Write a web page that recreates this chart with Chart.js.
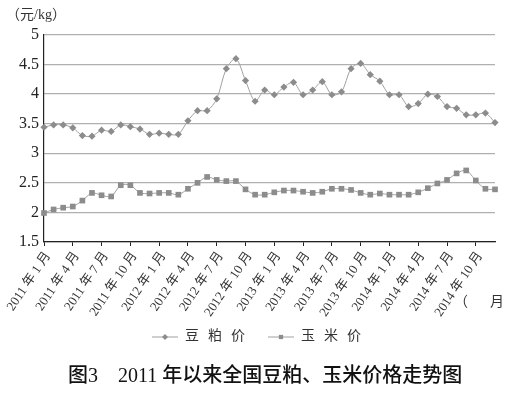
<!DOCTYPE html>
<html>
<head>
<meta charset="utf-8">
<script src="https://cdn.jsdelivr.net/npm/chart.js@4"></script>
<style>
  html, body { margin: 0; padding: 0; background: #fff; }
  #wrap { width: 514px; height: 394px; }
</style>
</head>
<body>
<div id="wrap"><canvas id="c" width="514" height="394"></canvas></div>
<script>
// months 2011-01 .. 2014-12
const years = [2011, 2012, 2013, 2014];
const months = [];
years.forEach(y => { for (let m = 1; m <= 12; m++) months.push(y + ' 年 ' + m + ' 月'); });

// prices (元/kg)
const soyMeal = [
  3.44, 3.48, 3.48, 3.43, 3.30, 3.29, 3.39, 3.37, 3.48, 3.45, 3.41, 3.32,
  3.34, 3.32, 3.32, 3.55, 3.72, 3.72, 3.92, 4.43, 4.60, 4.23, 3.88, 4.07,
  3.99, 4.12, 4.20, 3.99, 4.07, 4.21, 3.99, 4.04, 4.43, 4.52, 4.33, 4.22,
  3.99, 3.99, 3.79, 3.84, 4.00, 3.96, 3.79, 3.76, 3.65, 3.65, 3.68, 3.52
];
const corn = [
  1.99, 2.05, 2.08, 2.10, 2.20, 2.33, 2.29, 2.27, 2.46, 2.46, 2.33, 2.32,
  2.33, 2.33, 2.30, 2.40, 2.50, 2.60, 2.55, 2.53, 2.53, 2.39, 2.30, 2.30,
  2.34, 2.37, 2.37, 2.35, 2.33, 2.35, 2.40, 2.40, 2.38, 2.33, 2.30, 2.32,
  2.30, 2.30, 2.30, 2.34, 2.41, 2.49, 2.55, 2.66, 2.71, 2.54, 2.40, 2.39
];
const seriesNames = ['豆粕价', '玉米价'];

const serif = '"Liberation Serif", "Noto Sans CJK SC", serif';

// unit label, "(  月)" axis note, legend and caption
const extras = {
  id: 'extras',
  afterDraw(chart) {
    const c = chart.ctx;
    c.save();
    c.fillStyle = '#333';
    c.textBaseline = 'middle';
    c.font = '14px ' + serif;
    c.fillText('（元/kg）', 6, 15);
    c.fillText('（', 454, 302);
    c.fillText('月', 490, 302);

    // legend
    const items = [
      { x: 152, style: 'rectRot', ds: 0 },
      { x: 268, style: 'rect', ds: 1 }
    ];
    items.forEach(it => {
      const ds = chart.data.datasets[it.ds];
      const ly = 337;
      c.strokeStyle = ds.borderColor;
      c.lineWidth = 1;
      c.beginPath();
      c.moveTo(it.x, ly); c.lineTo(it.x + 26, ly);
      c.stroke();
      c.fillStyle = ds.pointBackgroundColor;
      Chart.helpers.drawPoint(c, { pointStyle: it.style, radius: 3, borderWidth: 0 }, it.x + 13, ly);
      c.fillStyle = '#333';
      c.font = '14px ' + serif;
      c.letterSpacing = '9px';
      c.fillText(ds.label, it.x + 33, ly - 1);
      c.letterSpacing = '0px';
    });

    // caption
    c.fillStyle = '#111';
    c.font = '500 20px ' + serif;
    c.fillText('图3', 68, 377);
    c.fillText('2011 年以来全国豆粕、玉米价格走势图', 118, 377);
    c.restore();
  }
};

new Chart(document.getElementById('c'), {
  type: 'line',
  data: {
    labels: months,
    datasets: [
      {
        label: seriesNames[0],
        data: soyMeal,
        borderColor: '#a0a0a0',
        borderWidth: 1,
        pointStyle: 'rectRot',
        pointRadius: 3.6,
        pointBackgroundColor: '#8c8c8c',
        pointBorderWidth: 0,
        tension: 0.3,
        fill: false
      },
      {
        label: seriesNames[1],
        data: corn,
        borderColor: '#a0a0a0',
        borderWidth: 1,
        pointStyle: 'rect',
        pointRadius: 4,
        pointBackgroundColor: '#8c8c8c',
        pointBorderWidth: 0,
        tension: 0.3,
        fill: false
      }
    ]
  },
  options: {
    responsive: false,
    animation: false,
    layout: { padding: { top: 35, right: 19, left: 0, bottom: 0 } },
    plugins: { legend: { display: false }, tooltip: { enabled: false } },
    scales: {
      x: {
        offset: false,
        border: { color: '#222', width: 1.2 },
        grid: {
          drawOnChartArea: false,
          tickLength: 4,
          tickColor: ctx => (ctx.index % 3 === 0 ? '#222' : 'rgba(0,0,0,0)')
        },
        ticks: {
          autoSkip: false,
          minRotation: 56,
          maxRotation: 56,
          padding: 3,
          labelOffset: 4,
          color: '#333',
          font: { family: serif, size: 13 },
          callback: (v, i) => (i % 3 === 0 ? months[i] : '')
        },
        afterFit: s => { s.height = 152; s.paddingLeft = 0; s.paddingRight = 0; }
      },
      y: {
        min: 1.5,
        max: 5,
        border: { color: '#222', width: 1.2 },
        grid: { color: '#b0b0b0', lineWidth: 1.3, drawTicks: false },
        ticks: {
          stepSize: 0.5,
          padding: 5,
          color: '#222',
          font: { family: serif, size: 16 },
          callback: v => String(v)
        },
        afterFit: s => { s.width = 44; }
      }
    }
  },
  plugins: [extras]
});
</script>
</body>
</html>
